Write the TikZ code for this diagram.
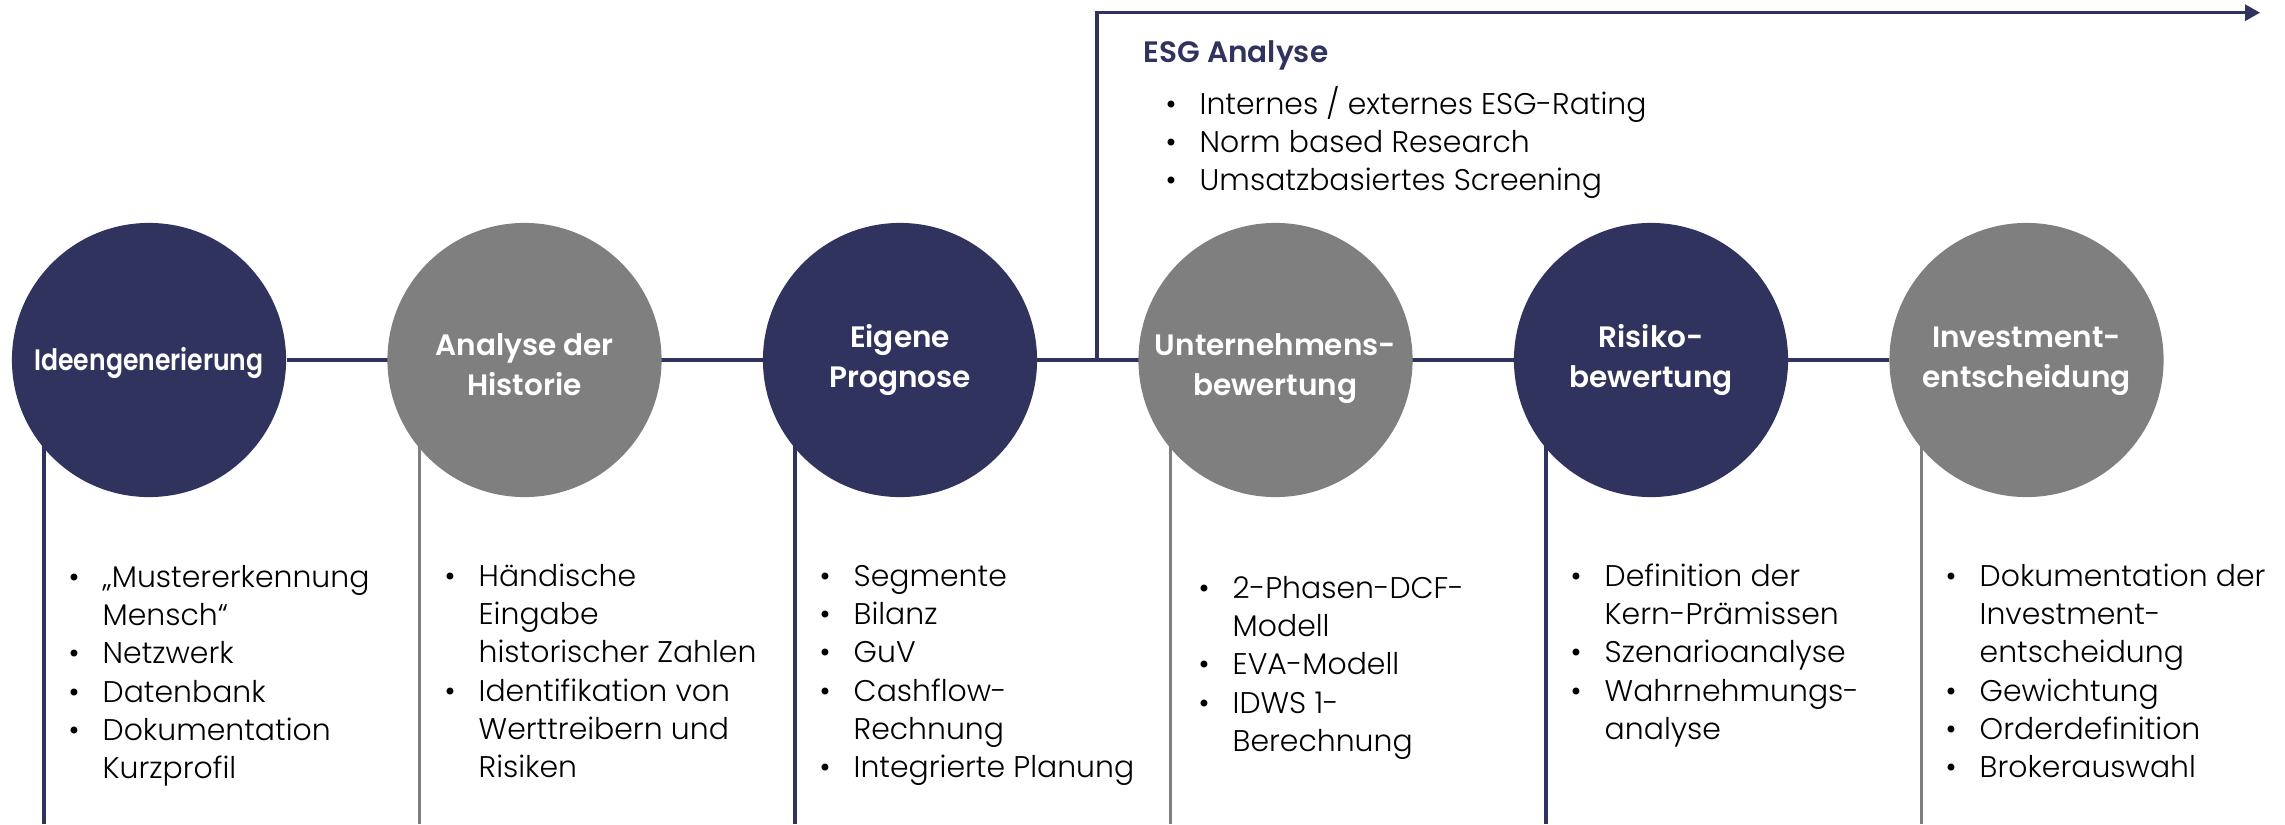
\documentclass[tikz,border=0pt]{standalone}
\usepackage{fontspec}
\setmainfont{Poppins}[UprightFont=* Light, BoldFont=* SemiBold]
\usetikzlibrary{arrows.meta,backgrounds}
\definecolor{navy}{HTML}{2F335E}
\definecolor{grau}{HTML}{7F7F7F}
\newcommand{\pkt}{\llap{\makebox[0.34cm][l]{\textbullet}}}
\newcommand{\zeilen}[2][l]{\begin{tabular}[t]{@{}#1@{}}#2\end{tabular}}

\begin{document}
\begin{tikzpicture}[x=0.01cm, y=-0.01cm,
  stufe/.style={circle, minimum size=2.74cm, inner sep=0pt},
  linie/.style={line width=0.9pt},
  titel/.style={anchor=base, inner sep=0pt, text=white, font=\bfseries\fontsize{8.4}{11.4}\selectfont},
  liste/.style={anchor=base west, inner sep=0pt, font=\fontsize{8.5}{10.9}\selectfont}]
\useasboundingbox (0,0) rectangle (2285,824);

\foreach \n/\x/\farbe in {1/149/navy, 2/524.5/grau, 3/900/navy, 4/1275.5/grau, 5/1651/navy, 6/2026.5/grau}
  \node[stufe, fill=\farbe] (s\n) at (\x,360) {};

\begin{scope}[on background layer]
\draw[linie, navy] (s1) -- (s6);
\foreach \n/\farbe in {1/navy, 2/grau, 3/navy, 4/grau, 5/navy, 6/grau}
  \draw[linie, \farbe] (s\n) ++(-105,0) -- ++(0,464);
\end{scope}

% ESG-Zweig
\coordinate (abzweig) at (1097,360);
\coordinate (ziel) at (2260,12.7);
\draw[linie, navy, -{Triangle[length=0.15cm, width=0.16cm]}] (abzweig) |- (ziel);
\node[anchor=base west, inner sep=0pt, text=navy, font=\bfseries\fontsize{8.4}{10}\selectfont] (esg) at (1143,62) {ESG Analyse};
\node[liste] (esgliste) at (1199,114) {\zeilen{\pkt Internes / externes ESG-Rating\\ \pkt Norm based Research\\ \pkt Umsatzbasiertes Screening}};

% Titel in den Kreisen
\node[titel] (t1) at (149,370) {\scalebox{0.85}[1]{Ideengenerierung}};
\node[titel] (t2) at (524.5,355) {\zeilen[c]{Analyse der\\Historie}};
\node[titel] (t3) at (900,347) {\zeilen[c]{Eigene\\Prognose}};
\node[titel] (t4) at (1275.5,355) {\zeilen[c]{Unternehmens-\\bewertung}};
\node[titel] (t5) at (1651,347) {\zeilen[c]{Risiko-\\bewertung}};
\node[titel] (t6) at (2026.5,347) {\zeilen[c]{Investment-\\entscheidung}};

% Listen
\node[liste] (l1) at (102,587) {\zeilen{\pkt „Mustererkennung\\ Mensch“\\ \pkt Netzwerk\\ \pkt Datenbank\\ \pkt Dokumentation\\ Kurzprofil}};
\node[liste] (l2) at (478,586) {\zeilen{\pkt Händische\\ Eingabe\\ historischer Zahlen\\ \pkt Identifikation von\\ Werttreibern und\\ Risiken}};
\node[liste] (l3) at (853,586) {\zeilen{\pkt Segmente\\ \pkt Bilanz\\ \pkt GuV\\ \pkt Cashflow-\\ Rechnung\\ \pkt Integrierte Planung}};
\node[liste] (l4) at (1232,598) {\zeilen{\pkt 2-Phasen-DCF-\\ Modell\\ \pkt EVA-Modell\\ \pkt IDWS 1-\\ Berechnung}};
\node[liste] (l5) at (1604,586) {\zeilen{\pkt Definition der\\ Kern-Prämissen\\ \pkt Szenarioanalyse\\ \pkt Wahrnehmungs-\\ analyse}};
\node[liste] (l6) at (1979,586) {\zeilen{\pkt Dokumentation der\\ Investment-\\ entscheidung\\ \pkt Gewichtung\\ \pkt Orderdefinition\\ \pkt Brokerauswahl}};
\end{tikzpicture}
\end{document}
